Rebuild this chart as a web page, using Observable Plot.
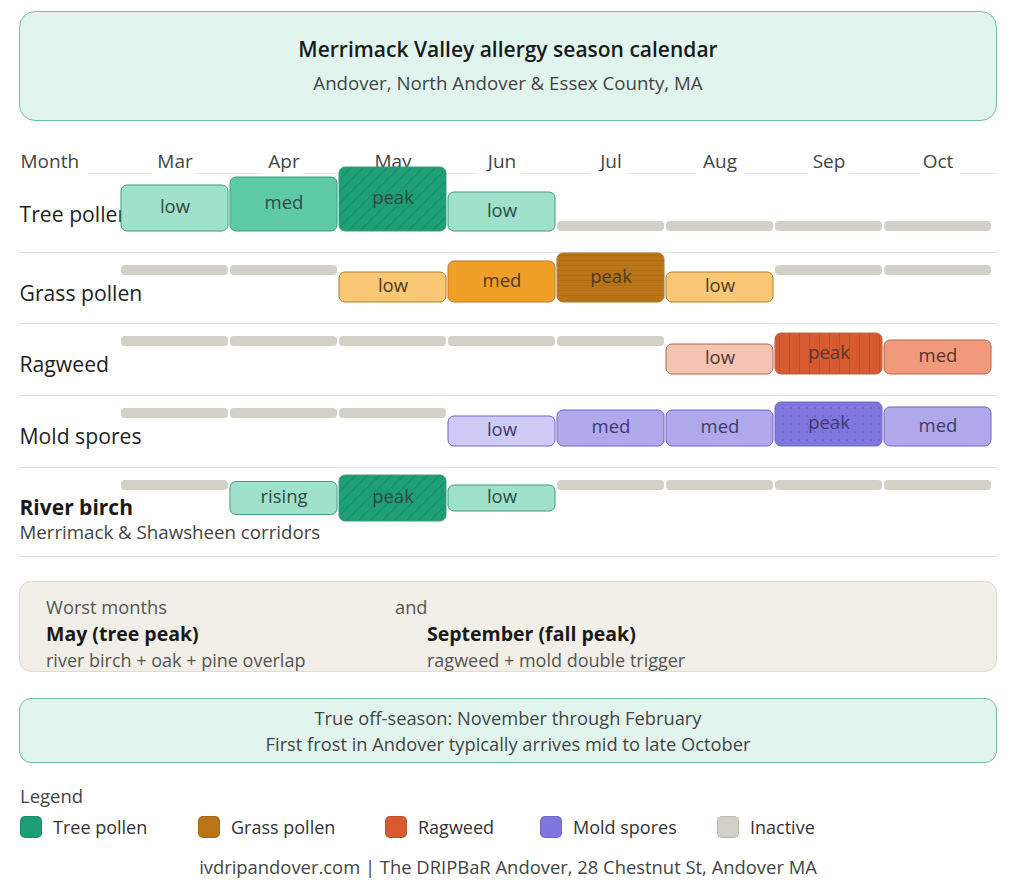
<!DOCTYPE html>
<html>
<head>
<meta charset="utf-8">
<script src="https://cdn.jsdelivr.net/npm/d3@7"></script>
<script src="https://cdn.jsdelivr.net/npm/@observablehq/plot@0.6"></script>
<style>
  html, body { margin: 0; padding: 0; background: #fff; }
  body { font-family: "Open Sans", "Noto Sans", sans-serif; color: #333; width: 1034px; height: 887px; position: relative; overflow: hidden; }
  .abs { position: absolute; }
  .box { position: absolute; left: 19px; width: 978px; box-sizing: border-box; }
  .t { position: absolute; white-space: nowrap; }
</style>
</head>
<body>
<script>
// ---------- DATA ----------
const months = ["Mar", "Apr", "May", "Jun", "Jul", "Aug", "Sep", "Oct"];
const rowNames = ["Tree pollen", "Grass pollen", "Ragweed", "Mold spores", "River birch"];
const rowNotes = ["", "", "", "", "Merrimack & Shawsheen corridors"];
const rowFamily = ["tree", "grass", "ragweed", "mold", "tree"];

// level per month (null = inactive)
const treeLevels    = ["low", "med", "peak", "low", null, null, null, null];
const grassLevels   = [null, null, "low", "med", "peak", "low", null, null];
const ragweedLevels = [null, null, null, null, null, "low", "peak", "med"];
const moldLevels    = [null, null, null, "low", "med", "med", "peak", "med"];
const birchLevels   = [null, "rising", "peak", "low", null, null, null, null];

// intensity (bar height) per month
const treeIntensity    = [46, 54, 64, 39, 0, 0, 0, 0];
const grassIntensity   = [0, 0, 30, 41, 49, 30, 0, 0];
const ragweedIntensity = [0, 0, 0, 0, 0, 30, 41, 34];
const moldIntensity    = [0, 0, 0, 30, 36, 36, 44, 39];
const birchIntensity   = [0, 33, 46, 26, 0, 0, 0, 0];

const legendNames = ["Tree pollen", "Grass pollen", "Ragweed", "Mold spores", "Inactive"];
const legendKeys  = ["tree", "grass", "ragweed", "mold", "inactive"];

const worstMonths = [
  {head: "May (tree peak)", note: "river birch + oak + pine overlap"},
  {head: "September (fall peak)", note: "ragweed + mold double trigger"}
];
const offSeason = ["True off-season: November through February", "First frost in Andover typically arrives mid to late October"];
const titleText = "Merrimack Valley allergy season calendar";
const subtitleText = "Andover, North Andover & Essex County, MA";
const footerText = "ivdripandover.com | The DRIPBaR Andover, 28 Chestnut St, Andover MA";

// ---------- STYLES ----------
const palette = {
  tree:    {low: "#9FE1CB", rising: "#9FE1CB", med: "#5DCAA5", peak: "#1D9E75", stroke: "#3E9C7C", ink: "#2E4A42", legend: "#1D9E75"},
  grass:   {low: "#FAC775", med: "#EF9F27", peak: "#BA7517", stroke: "#B07A2A", ink: "#4F3A1C", legend: "#BA7517"},
  ragweed: {low: "#F5C4B3", med: "#F0997B", peak: "#D85A30", stroke: "#B8644A", ink: "#56352C", legend: "#D85A30"},
  mold:    {low: "#CECBF6", med: "#AFA9EC", peak: "#7F77DD", stroke: "#6E67C4", ink: "#3F3A6E", legend: "#7F77DD"},
  inactive: {legend: "#D3D1C7"}
};
const inactiveFill = "#D3D1C7";

// ---------- LAYOUT ----------
const W = 978, H = 420;
const headerLine = 33;
const rowHeights = [79, 71, 72, 72, 89];
const rowTops = [];
{ let acc = headerLine; for (const h of rowHeights) { rowTops.push(acc); acc += h; } }
const rowBottoms = rowTops.map((t, i) => t + rowHeights[i]);

const allLevels = [treeLevels, grassLevels, ragweedLevels, moldLevels, birchLevels];
const allIntensity = [treeIntensity, grassIntensity, ragweedIntensity, moldIntensity, birchIntensity];

const cells = [];
rowNames.forEach((row, r) => {
  months.forEach((m, j) => {
    const level = allLevels[r][j];
    const h = allIntensity[r][j];
    const fam = rowFamily[r];
    let y1, y2;
    const centered = rowNotes[r] !== "";
    const base = rowBottoms[r] - 21;
    if (level) {
      if (centered) { const c = rowTops[r] + 31; y1 = c - h / 2; y2 = c + h / 2; }
      else { y1 = base - h; y2 = base; }
    } else {
      if (r === 0) { y1 = base - 10; y2 = base; }
      else { y1 = rowTops[r] + 13; y2 = rowTops[r] + 23; }
    }
    cells.push({row, r, month: m, level, h, fam, y1, y2});
  });
});
const active = cells.filter(d => d.level);
const inactive = cells.filter(d => !d.level);

// ---------- PAGE ----------
function el(tag, cls, style, text) {
  const e = document.createElement(tag);
  if (cls) e.className = cls;
  if (style) e.setAttribute("style", style);
  if (text != null) e.textContent = text;
  document.body.appendChild(e);
  return e;
}
function txt(parent, text, left, cy, size, opts = {}) {
  const e = document.createElement("div");
  e.className = "t";
  const lh = Math.round(size * (opts.lh || 1.1));
  let s = `top:${cy - lh / 2}px;line-height:${lh}px;font-size:${size}px;color:${opts.color || "#444"};font-weight:${opts.weight || 400};`;
  if (opts.center) s += `left:0;right:0;text-align:center;`; else s += `left:${left}px;`;
  e.setAttribute("style", s);
  e.textContent = text;
  parent.appendChild(e);
  return e;
}

// header box
const head = el("div", "box", "top:11px;height:110px;background:#E1F5EE;border:1px solid #74BFA3;border-radius:16px;");
txt(head, titleText, 0, 37, 21, {center: true, weight: 600, color: "#1a1a1a"});
txt(head, subtitleText, 0, 70, 18.7, {center: true, color: "#444"});

// chart
const chartHolder = el("div", "abs", `left:19px;top:140px;width:${W}px;height:${H}px;`);

const x = {type: "band", domain: months, range: [101, 973], padding: 0};
const fontSty = {fontFamily: "'Open Sans', sans-serif", overflow: "visible", background: "transparent"};

const marks = [
  Plot.ruleY(rowBottoms, {y: d => d, stroke: "#E4E3DE", strokeWidth: 1}),
  Plot.ruleY([headerLine], {y: d => d, stroke: "#E6E6E6", strokeWidth: 1, insetLeft: 69}),
  Plot.text(["Month"], {y: () => 21, frameAnchor: "left", dx: 1, textAnchor: "start", text: d => d, fontSize: 19, fill: "#444", stroke: "white", strokeWidth: 20}),
  Plot.text(months, {x: d => d, y: () => 21, text: d => d, fontSize: 19, fill: "#444", stroke: "white", strokeWidth: 18}),
  Plot.text(rowNames.slice(0, 4), {y: (d, i) => rowTops[i] + 42, frameAnchor: "left", dx: 0, textAnchor: "start", text: d => d, fontSize: 21.2, fill: "#1f1f1f"}),
  Plot.text(rowNames.slice(4), {y: () => rowTops[4] + 41, frameAnchor: "left", dx: 0, textAnchor: "start", text: d => d, fontSize: 21, fontWeight: 700, fill: "#1a1a1a"}),
  Plot.text(rowNotes.slice(4), {y: () => rowTops[4] + 66, frameAnchor: "left", dx: 0, textAnchor: "start", text: d => d, fontSize: 18.7, fill: "#444"}),
  Plot.rect(inactive, {x: "month", y1: "y1", y2: "y2", fill: () => inactiveFill, rx: 4, insetLeft: 1, insetRight: 1}),
  Plot.rect(active, {x: "month", y1: "y1", y2: "y2", fill: d => palette[d.fam][d.level], stroke: d => palette[d.fam].stroke, strokeWidth: 1, rx: 6, insetLeft: 1, insetRight: 1}),
];
for (const fam of ["tree", "grass", "ragweed", "mold"]) {
  marks.push(Plot.rect(active.filter(d => d.level === "peak" && d.fam === fam),
    {x: "month", y1: "y1", y2: "y2", fill: `url(#pat-${fam})`, rx: 6, insetLeft: 1.5, insetRight: 1.5, insetTop: 0.5, insetBottom: 0.5}));
}
marks.push(Plot.text(active, {x: "month", y: d => (d.y1 + d.y2) / 2 - 1, text: "level", fill: d => palette[d.fam].ink, fontSize: 18.5}));

const chart = Plot.plot({
  width: W, height: H,
  marginLeft: 0, marginRight: 0, marginTop: 0, marginBottom: 0,
  x, y: {type: "linear", domain: [0, H], range: [0, H]},
  color: {type: "identity"},
  axis: null,
  style: fontSty,
  marks
});

// patterns for peak cells
const defs = `
<defs>
  <pattern id="pat-tree" patternUnits="userSpaceOnUse" width="12" height="12">
    <path d="M-3,3 l6,-6 M0,12 l12,-12 M9,15 l6,-6" stroke="#0F6E56" stroke-opacity="0.45" stroke-width="1"/>
  </pattern>
  <pattern id="pat-grass" patternUnits="userSpaceOnUse" width="6" height="5">
    <line x1="0" y1="0.5" x2="6" y2="0.5" stroke="#854F0B" stroke-opacity="0.22" stroke-width="1"/>
  </pattern>
  <pattern id="pat-ragweed" patternUnits="userSpaceOnUse" width="10" height="6">
    <line x1="0.5" y1="0" x2="0.5" y2="6" stroke="#993C1D" stroke-opacity="0.35" stroke-width="1"/>
  </pattern>
  <pattern id="pat-mold" patternUnits="userSpaceOnUse" width="8" height="8">
    <circle cx="4" cy="4" r="1.1" fill="#534AB7" fill-opacity="0.45"/>
  </pattern>
</defs>`;
chart.insertAdjacentHTML("afterbegin", defs);
chartHolder.appendChild(chart);

// worst months box
const worst = el("div", "box", "top:581px;height:91px;background:#F1EFE8;border:1px solid #DDDBD2;border-radius:12px;");
txt(worst, "Worst months", 26, 25, 18.3, {color: "#555"});
txt(worst, "and", 375, 25, 18.3, {color: "#555"});
const cols = [26, 407];
worstMonths.forEach((w, i) => {
  txt(worst, w.head, cols[i], 52, 19.5, {weight: 700, color: "#1a1a1a", lh: 1.0});
  txt(worst, w.note, cols[i], 78, 18, {color: "#555", lh: 1.0});
});

// off-season box
const off = el("div", "box", "top:698px;height:65px;background:#E1F5EE;border:1px solid #74BFA3;border-radius:12px;");
txt(off, offSeason[0], 0, 19, 18.3, {center: true, color: "#444"});
txt(off, offSeason[1], 0, 45, 18.3, {center: true, color: "#444"});

// legend
const leg = el("div", "abs", "left:0;top:0;width:1034px;height:887px;pointer-events:none;");
txt(leg, "Legend", 20, 796, 18.5, {color: "#444"});
const legX = [20, 198, 385, 540, 717];
legendNames.forEach((n, i) => {
  const sw = document.createElement("div");
  sw.className = "abs";
  sw.setAttribute("style", `left:${legX[i]}px;top:816px;width:22px;height:22px;border-radius:5px;background:${palette[legendKeys[i]].legend};box-sizing:border-box;border:1px solid rgba(0,0,0,0.12);`);
  leg.appendChild(sw);
  txt(leg, n, legX[i] + 33, 827, 18, {color: "#333"});
});
const foot = el("div", "abs", "left:19px;top:0;width:978px;height:887px;");
txt(foot, footerText, 0, 867, 18.4, {center: true, color: "#444"});
</script>
</body>
</html>
